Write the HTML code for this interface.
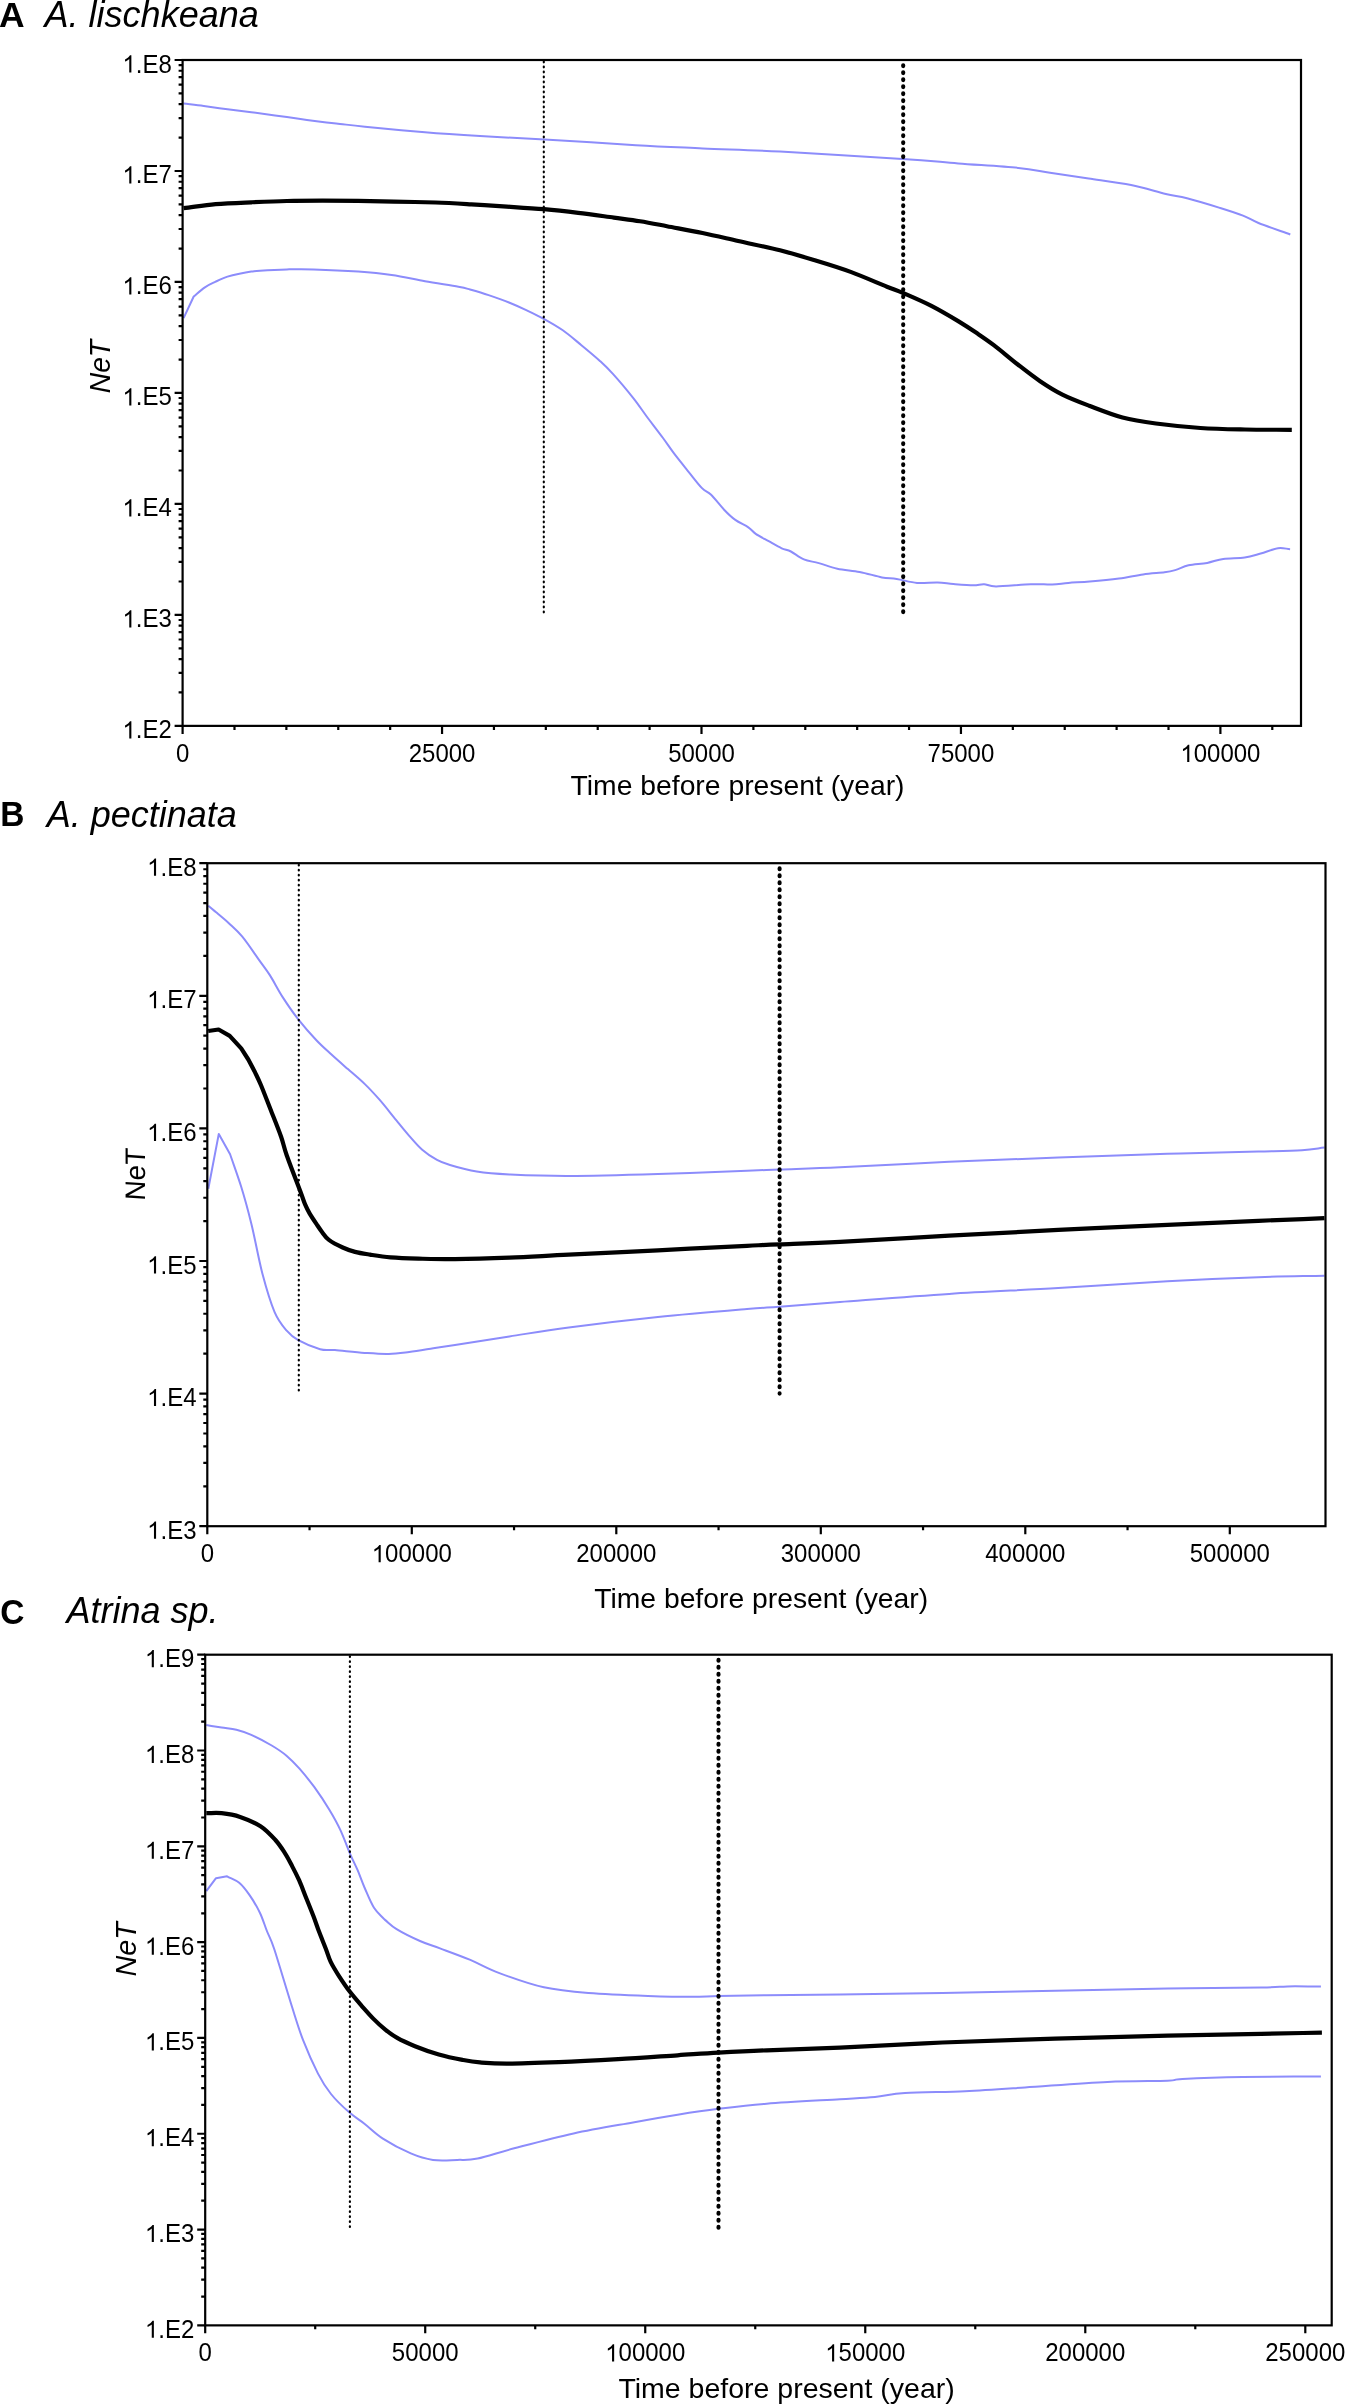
<!DOCTYPE html><html><head><meta charset="utf-8"><style>html,body{margin:0;padding:0;background:#fff;}svg{display:block}text{font-family:"Liberation Sans", sans-serif;}text{filter:grayscale(1)}</style></head><body>
<svg width="1347" height="2405" viewBox="0 0 1347 2405">
<rect width="1347" height="2405" fill="#fff"/>
<g class="t">
<path d="M183.5 103.5C190.3 104.3 196.5 104.9 203.8 105.9C211.1 106.9 219.6 108.2 227.5 109.3C235.4 110.3 243.4 111.2 251.3 112.2C259.2 113.2 267.1 114.3 275.0 115.4C282.9 116.5 290.9 117.7 298.8 118.8C306.7 119.9 315.6 121.2 322.5 122.1C329.4 122.9 332.9 123.1 340.0 123.9C347.1 124.7 350.7 125.3 364.9 126.7C379.1 128.1 405.8 130.7 425.0 132.3C444.2 133.9 460.1 134.9 480.0 136.1C499.9 137.3 518.6 137.9 544.6 139.4C570.6 140.9 609.5 143.7 635.9 145.2C662.2 146.7 678.7 147.3 702.7 148.4C726.7 149.5 746.7 149.8 780.0 151.6C813.3 153.3 872.8 156.9 902.5 158.9C932.2 160.9 938.9 161.9 958.2 163.4C977.5 164.9 1003.0 166.3 1018.3 167.9C1033.6 169.5 1038.3 171.0 1050.0 172.8C1061.7 174.6 1075.1 176.6 1088.6 178.6C1102.1 180.6 1118.2 182.5 1131.1 185.1C1144.0 187.7 1156.5 191.8 1165.8 194.0C1175.1 196.2 1178.0 196.0 1187.0 198.3C1196.0 200.6 1210.5 205.0 1219.8 207.9C1229.1 210.8 1236.5 213.1 1243.0 215.6C1249.5 218.1 1250.6 219.8 1258.5 223.0C1266.4 226.2 1279.7 230.7 1290.3 234.5" fill="none" stroke="#8c8cfb" stroke-width="2.0" stroke-linejoin="round" stroke-linecap="butt"/>
<path d="M183.6 318.2L193.7 296.5C197.4 293.4 201.2 289.8 204.9 287.3C208.6 284.8 211.8 283.5 215.6 281.7C219.4 279.9 223.5 277.9 227.5 276.6C231.5 275.3 235.4 274.5 239.4 273.7C243.4 272.9 247.9 272.1 251.3 271.6C254.7 271.1 254.1 271.1 260.0 270.7C265.9 270.3 278.0 269.6 286.9 269.4C295.8 269.2 301.7 269.0 313.6 269.4C325.5 269.8 345.2 270.7 358.2 271.6C371.2 272.5 380.5 273.4 391.6 275.0C402.7 276.6 413.9 279.2 425.0 281.2C436.1 283.2 450.9 285.4 458.4 286.8C465.9 288.2 465.0 288.1 470.0 289.5C475.0 290.9 482.1 292.9 488.6 295.1C495.1 297.3 502.8 300.0 509.0 302.5C515.2 305.0 520.0 307.2 525.7 309.9C531.4 312.6 537.1 315.2 543.3 318.6C549.5 322.0 556.4 325.9 562.8 330.3C569.1 334.7 575.2 340.1 581.4 345.2C587.6 350.3 594.6 356.1 599.9 360.9C605.1 365.7 607.3 367.7 612.9 373.9C618.5 380.1 627.4 390.7 633.3 398.1C639.2 405.5 643.2 411.9 648.2 418.5C653.2 425.1 658.7 432.1 663.0 438.0C667.3 443.9 669.9 448.0 674.2 453.7C678.5 459.4 684.4 466.6 689.0 472.3C693.6 478.0 698.3 484.4 702.0 488.1C705.7 491.9 707.4 491.2 711.1 494.8C714.8 498.4 720.1 505.5 724.1 509.7C728.1 513.9 731.3 517.0 735.3 519.9C739.3 522.8 744.9 525.0 748.3 527.3C751.7 529.6 752.3 531.5 755.7 533.8C759.1 536.1 764.4 538.8 768.7 541.2C773.0 543.6 778.0 546.6 781.7 548.3C785.4 550.0 787.2 549.6 790.9 551.5C794.6 553.4 799.2 557.5 803.9 559.4C808.5 561.3 813.2 561.5 818.8 563.1C824.4 564.7 830.5 567.2 837.3 568.7C844.1 570.2 852.2 570.5 859.6 571.9C867.0 573.3 875.7 576.2 881.9 577.4C888.1 578.6 890.8 578.0 896.7 578.9C902.6 579.8 910.3 582.4 917.1 583.0C923.9 583.6 931.6 582.2 937.6 582.4C943.6 582.6 947.4 583.5 953.4 584.0C959.4 584.5 968.3 585.3 973.4 585.3C978.5 585.3 980.3 584.0 984.1 584.2C987.9 584.4 988.3 586.4 996.1 586.4C1003.9 586.4 1021.6 584.5 1030.9 584.2C1040.2 583.9 1046.0 584.7 1052.2 584.5C1058.4 584.3 1062.0 583.4 1068.3 582.9C1074.5 582.4 1081.2 582.3 1089.7 581.6C1098.2 580.9 1110.1 579.8 1119.0 578.6C1127.9 577.4 1135.5 575.5 1143.1 574.4C1150.7 573.3 1159.2 572.9 1164.5 572.2C1169.8 571.5 1171.2 571.2 1175.2 570.1C1179.2 569.0 1183.2 566.5 1188.5 565.3C1193.8 564.1 1201.4 564.0 1207.2 562.9C1213.0 561.8 1217.0 559.8 1223.3 558.9C1229.5 558.0 1238.5 558.4 1244.7 557.5C1250.9 556.6 1255.2 555.0 1260.7 553.5C1266.2 552.0 1273.1 548.9 1278.0 548.2C1282.9 547.5 1286.1 548.9 1290.1 549.2" fill="none" stroke="#8c8cfb" stroke-width="2.0" stroke-linejoin="round" stroke-linecap="butt"/>
<path d="M183.6 208.2C194.3 206.9 204.3 205.2 215.6 204.2C226.9 203.2 239.4 202.8 251.3 202.3C263.2 201.8 275.0 201.3 286.9 201.0C298.8 200.7 310.6 200.7 322.5 200.7C334.4 200.7 346.3 200.8 358.2 200.9C370.1 201.1 380.9 201.3 393.8 201.6C406.7 201.9 422.7 202.1 435.6 202.5C448.5 202.9 459.4 203.6 471.3 204.3C483.2 205.0 494.8 205.8 506.9 206.6C519.0 207.4 532.1 208.2 544.0 209.2C555.9 210.2 566.6 211.4 578.2 212.8C589.8 214.2 603.5 216.2 613.8 217.6C624.1 219.0 631.1 219.8 640.0 221.2C648.9 222.6 656.5 224.2 666.9 226.2C677.3 228.2 690.6 230.5 702.5 233.0C714.4 235.5 725.3 238.1 738.2 241.0C751.1 243.9 767.1 247.1 780.0 250.3C792.9 253.6 803.7 256.9 815.6 260.5C827.5 264.1 839.4 267.7 851.3 272.1C863.2 276.5 878.2 283.2 886.9 286.7C895.6 290.2 895.9 289.9 903.3 293.1C910.7 296.3 922.2 301.2 931.4 305.9C940.5 310.6 950.8 316.7 958.2 321.1C965.6 325.6 970.1 328.6 976.0 332.6C981.9 336.6 986.8 339.8 993.8 345.1C1000.8 350.4 1010.1 358.5 1017.8 364.5C1025.5 370.5 1032.7 376.2 1040.1 381.2C1047.5 386.2 1054.2 390.5 1062.4 394.6C1070.6 398.7 1079.1 401.9 1089.1 405.7C1099.1 409.5 1111.4 414.5 1122.5 417.5C1133.6 420.5 1142.9 421.8 1155.9 423.5C1168.9 425.2 1185.6 427.0 1200.4 428.0C1215.2 429.0 1229.8 429.2 1245.0 429.5C1260.2 429.8 1276.2 429.7 1291.8 429.8" fill="none" stroke="#000" stroke-width="4.2" stroke-linejoin="round" stroke-linecap="butt"/>
<rect x="182.60" y="60.00" width="1118.40" height="665.88" fill="none" stroke="#000" stroke-width="2.2"/>
<path d="M174.60 725.88H182.60M178.60 692.47H182.60M178.60 672.93H182.60M178.60 659.06H182.60M178.60 648.31H182.60M178.60 639.52H182.60M178.60 632.09H182.60M178.60 625.66H182.60M178.60 619.98H182.60M174.60 614.90H182.60M178.60 581.49H182.60M178.60 561.95H182.60M178.60 548.08H182.60M178.60 537.33H182.60M178.60 528.54H182.60M178.60 521.11H182.60M178.60 514.68H182.60M178.60 509.00H182.60M174.60 503.92H182.60M178.60 470.51H182.60M178.60 450.97H182.60M178.60 437.10H182.60M178.60 426.35H182.60M178.60 417.56H182.60M178.60 410.13H182.60M178.60 403.70H182.60M178.60 398.02H182.60M174.60 392.94H182.60M178.60 359.53H182.60M178.60 339.99H182.60M178.60 326.12H182.60M178.60 315.37H182.60M178.60 306.58H182.60M178.60 299.15H182.60M178.60 292.72H182.60M178.60 287.04H182.60M174.60 281.96H182.60M178.60 248.55H182.60M178.60 229.01H182.60M178.60 215.14H182.60M178.60 204.39H182.60M178.60 195.60H182.60M178.60 188.17H182.60M178.60 181.74H182.60M178.60 176.06H182.60M174.60 170.98H182.60M178.60 137.57H182.60M178.60 118.03H182.60M178.60 104.16H182.60M178.60 93.41H182.60M178.60 84.62H182.60M178.60 77.19H182.60M178.60 70.76H182.60M178.60 65.08H182.60M174.60 60.00H182.60M182.60 725.88V733.88M442.05 725.88V733.88M701.50 725.88V733.88M960.95 725.88V733.88M1220.40 725.88V733.88M234.49 725.88V729.88M286.38 725.88V729.88M338.27 725.88V729.88M390.16 725.88V729.88M493.94 725.88V729.88M545.83 725.88V729.88M597.72 725.88V729.88M649.61 725.88V729.88M753.39 725.88V729.88M805.28 725.88V729.88M857.17 725.88V729.88M909.06 725.88V729.88M1012.84 725.88V729.88M1064.73 725.88V729.88M1116.62 725.88V729.88M1168.51 725.88V729.88M1272.29 725.88V729.88" stroke="#000" stroke-width="2.2" fill="none"/>
<path transform="translate(122.43 738.38) scale(0.011719 -0.011719)" d="M763 0L583 0L583 1147C540 1106 483 1065 413 1024C343 983 280 952 223 930L223 1104C323 1151 411 1208 486 1275C561 1342 614 1406 646 1466L763 1466Z" fill="#000"/><text transform="translate(135.78 738.38) scale(1.0000 1.0407)" font-size="24">.E2</text>
<path transform="translate(122.43 627.40) scale(0.011719 -0.011719)" d="M763 0L583 0L583 1147C540 1106 483 1065 413 1024C343 983 280 952 223 930L223 1104C323 1151 411 1208 486 1275C561 1342 614 1406 646 1466L763 1466Z" fill="#000"/><text transform="translate(135.78 627.40) scale(1.0000 1.0407)" font-size="24">.E3</text>
<path transform="translate(122.43 516.42) scale(0.011719 -0.011719)" d="M763 0L583 0L583 1147C540 1106 483 1065 413 1024C343 983 280 952 223 930L223 1104C323 1151 411 1208 486 1275C561 1342 614 1406 646 1466L763 1466Z" fill="#000"/><text transform="translate(135.78 516.42) scale(1.0000 1.0407)" font-size="24">.E4</text>
<path transform="translate(122.43 405.44) scale(0.011719 -0.011719)" d="M763 0L583 0L583 1147C540 1106 483 1065 413 1024C343 983 280 952 223 930L223 1104C323 1151 411 1208 486 1275C561 1342 614 1406 646 1466L763 1466Z" fill="#000"/><text transform="translate(135.78 405.44) scale(1.0000 1.0407)" font-size="24">.E5</text>
<path transform="translate(122.43 294.46) scale(0.011719 -0.011719)" d="M763 0L583 0L583 1147C540 1106 483 1065 413 1024C343 983 280 952 223 930L223 1104C323 1151 411 1208 486 1275C561 1342 614 1406 646 1466L763 1466Z" fill="#000"/><text transform="translate(135.78 294.46) scale(1.0000 1.0407)" font-size="24">.E6</text>
<path transform="translate(122.43 183.48) scale(0.011719 -0.011719)" d="M763 0L583 0L583 1147C540 1106 483 1065 413 1024C343 983 280 952 223 930L223 1104C323 1151 411 1208 486 1275C561 1342 614 1406 646 1466L763 1466Z" fill="#000"/><text transform="translate(135.78 183.48) scale(1.0000 1.0407)" font-size="24">.E7</text>
<path transform="translate(122.43 72.50) scale(0.011719 -0.011719)" d="M763 0L583 0L583 1147C540 1106 483 1065 413 1024C343 983 280 952 223 930L223 1104C323 1151 411 1208 486 1275C561 1342 614 1406 646 1466L763 1466Z" fill="#000"/><text transform="translate(135.78 72.50) scale(1.0000 1.0407)" font-size="24">.E8</text>
<text transform="translate(175.93 761.98) scale(1.0000 1.0407)" font-size="24">0</text>
<text transform="translate(408.69 761.98) scale(1.0000 1.0407)" font-size="24">25000</text>
<text transform="translate(668.14 761.98) scale(1.0000 1.0407)" font-size="24">50000</text>
<text transform="translate(927.59 761.98) scale(1.0000 1.0407)" font-size="24">75000</text>
<path transform="translate(1180.37 761.98) scale(0.011719 -0.011719)" d="M763 0L583 0L583 1147C540 1106 483 1065 413 1024C343 983 280 952 223 930L223 1104C323 1151 411 1208 486 1275C561 1342 614 1406 646 1466L763 1466Z" fill="#000"/><text transform="translate(1193.71 761.98) scale(1.0000 1.0407)" font-size="24">00000</text>
<line x1="543.80" y1="61.70" x2="543.80" y2="614.90" stroke="#000" stroke-width="2.2" stroke-linecap="round" stroke-dasharray="0.6 4.4"/>
<line x1="903.20" y1="65.20" x2="903.20" y2="614.90" stroke="#000" stroke-width="4.1" stroke-linecap="round" stroke-dasharray="0.9 6.1"/>
<path d="M208.3 905.8C210.9 908.0 212.6 909.4 216.1 912.3C219.6 915.2 224.8 919.4 229.1 923.4C233.4 927.4 237.1 930.4 242.1 936.4C247.1 942.4 254.2 953.1 258.8 959.6C263.4 966.1 266.0 969.1 270.0 975.4C274.0 981.7 278.2 990.2 283.0 997.6C287.8 1005.0 293.1 1012.8 298.7 1019.9C304.3 1027.0 311.0 1034.6 316.4 1040.3C321.8 1046.0 325.9 1049.5 331.2 1054.3C336.4 1059.1 342.3 1064.2 347.9 1069.1C353.5 1074.0 359.3 1078.8 364.6 1083.9C369.9 1089.0 374.2 1093.7 379.5 1099.7C384.8 1105.7 391.2 1114.1 396.2 1120.1C401.1 1126.1 404.9 1130.9 409.2 1135.8C413.5 1140.7 417.6 1145.7 422.2 1149.7C426.8 1153.7 432.4 1157.4 437.0 1159.9C441.6 1162.5 443.4 1163.0 450.0 1165.0C456.6 1167.0 466.8 1170.0 476.7 1171.6C486.6 1173.2 494.0 1173.8 509.4 1174.5C524.8 1175.2 544.0 1176.1 568.8 1176.0C593.5 1175.9 628.2 1174.9 657.9 1174.0C687.6 1173.1 726.7 1171.5 747.0 1170.7C767.3 1170.0 764.1 1170.1 779.6 1169.5C795.1 1168.9 811.8 1168.6 840.0 1167.3C868.2 1166.0 912.7 1163.4 949.1 1161.8C985.5 1160.2 1021.9 1158.8 1058.3 1157.5C1094.7 1156.2 1134.1 1154.8 1167.4 1153.8C1200.7 1152.8 1235.9 1152.2 1258.3 1151.6C1280.7 1151.0 1291.0 1150.9 1302.0 1150.2C1313.0 1149.5 1317.0 1148.5 1324.5 1147.6" fill="none" stroke="#8c8cfb" stroke-width="2.0" stroke-linejoin="round" stroke-linecap="butt"/>
<path d="M208.3 1188.7L218.8 1133.9L230.1 1154.3C233.8 1165.1 237.6 1175.2 241.2 1186.8C244.8 1198.4 247.8 1209.4 251.4 1223.9C255.0 1238.4 258.6 1259.3 262.5 1274.0C266.4 1288.7 270.6 1302.6 274.6 1312.1C278.6 1321.5 282.8 1326.1 286.7 1330.7C290.6 1335.3 292.2 1336.8 297.8 1339.9C303.4 1343.0 313.9 1347.5 320.1 1349.2C326.3 1350.9 327.5 1349.5 334.9 1350.1C342.3 1350.7 355.6 1352.3 364.6 1352.9C373.6 1353.5 381.3 1354.1 388.7 1353.9C396.1 1353.8 401.8 1352.9 409.2 1352.0C416.6 1351.1 425.7 1349.5 433.3 1348.3C440.9 1347.1 442.3 1347.0 455.0 1345.0C467.7 1343.0 490.4 1339.3 509.4 1336.4C528.4 1333.5 544.0 1330.7 568.8 1327.5C593.5 1324.3 628.2 1320.2 657.9 1317.1C687.6 1314.0 726.7 1310.8 747.0 1309.1C767.3 1307.4 764.1 1307.9 779.6 1306.7C795.1 1305.5 811.8 1304.0 840.0 1301.9C868.2 1299.8 912.7 1296.2 949.1 1293.9C985.5 1291.6 1021.9 1290.2 1058.3 1288.1C1094.7 1286.0 1134.1 1283.0 1167.4 1281.2C1200.7 1279.4 1232.1 1278.1 1258.3 1277.2C1284.5 1276.3 1302.4 1276.2 1324.5 1275.7" fill="none" stroke="#8c8cfb" stroke-width="2.0" stroke-linejoin="round" stroke-linecap="butt"/>
<path d="M208.2 1031.0L218.6 1029.5L229.7 1035.8L241.2 1048.4L248.3 1059.5L254.6 1071.4C256.7 1075.9 258.0 1078.1 260.9 1085.0C263.8 1091.9 268.4 1104.1 271.8 1112.7C275.2 1121.3 278.6 1129.7 281.1 1136.8C283.6 1143.9 283.5 1146.2 286.7 1155.3C289.9 1164.4 297.2 1183.1 300.3 1191.3C303.4 1199.5 303.6 1201.0 305.2 1204.7C306.8 1208.4 307.7 1210.2 309.7 1213.6C311.7 1217.0 315.2 1222.1 317.3 1225.2C319.4 1228.3 320.1 1229.5 322.0 1232.0C323.9 1234.5 325.4 1237.3 328.9 1239.9C332.3 1242.5 338.3 1245.5 342.7 1247.5C347.1 1249.5 350.4 1250.7 355.0 1251.9C359.6 1253.1 364.1 1253.7 370.0 1254.6C375.9 1255.5 382.5 1256.6 390.6 1257.3C398.7 1258.0 407.7 1258.3 418.4 1258.6C429.1 1258.9 439.8 1259.3 455.0 1259.2C470.2 1259.1 490.4 1258.5 509.4 1257.7C528.4 1257.0 544.0 1255.9 568.8 1254.7C593.5 1253.5 628.2 1251.8 657.9 1250.3C687.6 1248.8 726.7 1246.8 747.0 1245.8C767.3 1244.8 764.1 1244.9 779.6 1244.3C795.1 1243.7 811.8 1243.3 840.0 1241.9C868.2 1240.5 912.7 1237.7 949.1 1235.7C985.5 1233.7 1021.9 1231.7 1058.3 1229.9C1094.7 1228.1 1134.1 1226.3 1167.4 1224.8C1200.7 1223.3 1232.1 1221.9 1258.3 1220.8C1284.5 1219.7 1302.4 1219.1 1324.5 1218.2" fill="none" stroke="#000" stroke-width="4.2" stroke-linejoin="round" stroke-linecap="butt"/>
<rect x="207.30" y="863.20" width="1118.20" height="663.00" fill="none" stroke="#000" stroke-width="2.2"/>
<path d="M199.30 1526.20H207.30M203.30 1486.28H207.30M203.30 1462.93H207.30M203.30 1446.37H207.30M203.30 1433.52H207.30M203.30 1423.02H207.30M203.30 1414.14H207.30M203.30 1406.45H207.30M203.30 1399.67H207.30M199.30 1393.60H207.30M203.30 1353.68H207.30M203.30 1330.33H207.30M203.30 1313.77H207.30M203.30 1300.92H207.30M203.30 1290.42H207.30M203.30 1281.54H207.30M203.30 1273.85H207.30M203.30 1267.07H207.30M199.30 1261.00H207.30M203.30 1221.08H207.30M203.30 1197.73H207.30M203.30 1181.17H207.30M203.30 1168.32H207.30M203.30 1157.82H207.30M203.30 1148.94H207.30M203.30 1141.25H207.30M203.30 1134.47H207.30M199.30 1128.40H207.30M203.30 1088.48H207.30M203.30 1065.13H207.30M203.30 1048.57H207.30M203.30 1035.72H207.30M203.30 1025.22H207.30M203.30 1016.34H207.30M203.30 1008.65H207.30M203.30 1001.87H207.30M199.30 995.80H207.30M203.30 955.88H207.30M203.30 932.53H207.30M203.30 915.97H207.30M203.30 903.12H207.30M203.30 892.62H207.30M203.30 883.74H207.30M203.30 876.05H207.30M203.30 869.27H207.30M199.30 863.20H207.30M207.30 1526.20V1534.20M411.80 1526.20V1534.20M616.30 1526.20V1534.20M820.80 1526.20V1534.20M1025.30 1526.20V1534.20M1229.80 1526.20V1534.20M309.55 1526.20V1530.20M514.05 1526.20V1530.20M718.55 1526.20V1530.20M923.05 1526.20V1530.20M1127.55 1526.20V1530.20" stroke="#000" stroke-width="2.2" fill="none"/>
<path transform="translate(147.13 1538.70) scale(0.011719 -0.011719)" d="M763 0L583 0L583 1147C540 1106 483 1065 413 1024C343 983 280 952 223 930L223 1104C323 1151 411 1208 486 1275C561 1342 614 1406 646 1466L763 1466Z" fill="#000"/><text transform="translate(160.48 1538.70) scale(1.0000 1.0407)" font-size="24">.E3</text>
<path transform="translate(147.13 1406.10) scale(0.011719 -0.011719)" d="M763 0L583 0L583 1147C540 1106 483 1065 413 1024C343 983 280 952 223 930L223 1104C323 1151 411 1208 486 1275C561 1342 614 1406 646 1466L763 1466Z" fill="#000"/><text transform="translate(160.48 1406.10) scale(1.0000 1.0407)" font-size="24">.E4</text>
<path transform="translate(147.13 1273.50) scale(0.011719 -0.011719)" d="M763 0L583 0L583 1147C540 1106 483 1065 413 1024C343 983 280 952 223 930L223 1104C323 1151 411 1208 486 1275C561 1342 614 1406 646 1466L763 1466Z" fill="#000"/><text transform="translate(160.48 1273.50) scale(1.0000 1.0407)" font-size="24">.E5</text>
<path transform="translate(147.13 1140.90) scale(0.011719 -0.011719)" d="M763 0L583 0L583 1147C540 1106 483 1065 413 1024C343 983 280 952 223 930L223 1104C323 1151 411 1208 486 1275C561 1342 614 1406 646 1466L763 1466Z" fill="#000"/><text transform="translate(160.48 1140.90) scale(1.0000 1.0407)" font-size="24">.E6</text>
<path transform="translate(147.13 1008.30) scale(0.011719 -0.011719)" d="M763 0L583 0L583 1147C540 1106 483 1065 413 1024C343 983 280 952 223 930L223 1104C323 1151 411 1208 486 1275C561 1342 614 1406 646 1466L763 1466Z" fill="#000"/><text transform="translate(160.48 1008.30) scale(1.0000 1.0407)" font-size="24">.E7</text>
<path transform="translate(147.13 875.70) scale(0.011719 -0.011719)" d="M763 0L583 0L583 1147C540 1106 483 1065 413 1024C343 983 280 952 223 930L223 1104C323 1151 411 1208 486 1275C561 1342 614 1406 646 1466L763 1466Z" fill="#000"/><text transform="translate(160.48 875.70) scale(1.0000 1.0407)" font-size="24">.E8</text>
<text transform="translate(200.63 1562.30) scale(1.0000 1.0407)" font-size="24">0</text>
<path transform="translate(371.77 1562.30) scale(0.011719 -0.011719)" d="M763 0L583 0L583 1147C540 1106 483 1065 413 1024C343 983 280 952 223 930L223 1104C323 1151 411 1208 486 1275C561 1342 614 1406 646 1466L763 1466Z" fill="#000"/><text transform="translate(385.11 1562.30) scale(1.0000 1.0407)" font-size="24">00000</text>
<text transform="translate(576.27 1562.30) scale(1.0000 1.0407)" font-size="24">200000</text>
<text transform="translate(780.77 1562.30) scale(1.0000 1.0407)" font-size="24">300000</text>
<text transform="translate(985.27 1562.30) scale(1.0000 1.0407)" font-size="24">400000</text>
<text transform="translate(1189.77 1562.30) scale(1.0000 1.0407)" font-size="24">500000</text>
<line x1="298.80" y1="864.90" x2="298.80" y2="1393.60" stroke="#000" stroke-width="2.2" stroke-linecap="round" stroke-dasharray="0.6 4.4"/>
<line x1="779.60" y1="868.40" x2="779.60" y2="1393.60" stroke="#000" stroke-width="4.1" stroke-linecap="round" stroke-dasharray="0.9 6.1"/>
<path d="M206.3 1725.1C211.4 1725.9 216.6 1726.7 221.6 1727.5C226.6 1728.3 231.4 1728.5 236.4 1729.7C241.4 1730.9 245.4 1732.3 251.3 1734.9C257.2 1737.5 265.8 1742.0 271.7 1745.5C277.6 1749.0 281.9 1751.8 286.5 1755.7C291.1 1759.6 294.9 1763.5 299.5 1768.7C304.1 1774.0 309.4 1780.4 314.4 1787.2C319.3 1794.0 324.9 1802.4 329.2 1809.5C333.5 1816.6 336.8 1822.4 340.3 1829.9C343.8 1837.4 347.5 1847.7 350.3 1854.3C353.1 1860.9 355.0 1864.2 357.4 1869.7C359.8 1875.2 361.7 1881.2 364.5 1887.5C367.3 1893.8 370.6 1902.4 374.0 1907.7C377.4 1913.0 381.1 1915.6 384.7 1919.6C388.7 1922.8 390.7 1925.5 396.6 1929.1C402.5 1932.7 412.8 1937.8 420.0 1941.0C427.2 1944.2 431.7 1945.3 440.0 1948.4C448.3 1951.5 459.8 1955.6 469.7 1959.7C479.6 1963.8 487.0 1968.5 499.4 1973.1C511.8 1977.7 529.0 1984.0 543.9 1987.3C558.8 1990.6 571.2 1991.6 588.5 1993.0C605.8 1994.4 630.6 1995.3 647.9 1995.9C665.2 1996.5 680.6 1996.8 692.4 1996.8C704.2 1996.8 706.1 1996.2 718.5 1995.9C730.9 1995.7 746.5 1995.5 766.7 1995.3C787.0 1995.1 810.7 1995.0 840.0 1994.6C869.3 1994.2 906.7 1993.7 942.5 1993.0C978.3 1992.3 1017.5 1991.5 1055.0 1990.7C1092.5 1990.0 1133.1 1989.0 1167.5 1988.5C1201.9 1988.0 1241.2 1987.8 1261.2 1987.4C1281.2 1987.1 1277.5 1986.6 1287.4 1986.4C1297.4 1986.2 1309.7 1986.5 1320.9 1986.5" fill="none" stroke="#8c8cfb" stroke-width="2.0" stroke-linejoin="round" stroke-linecap="butt"/>
<path d="M206.3 1891.2L216.0 1878.2L227.1 1876.3C231.1 1878.5 235.5 1879.7 239.2 1882.8C242.9 1885.9 245.9 1889.9 249.4 1894.9C252.9 1899.9 257.1 1906.9 260.0 1913.0C262.9 1919.1 264.7 1925.5 267.1 1931.5C269.5 1937.5 270.2 1936.8 274.3 1949.3C278.4 1961.8 287.2 1991.6 292.0 2006.8C296.8 2022.0 298.8 2029.1 303.1 2040.2C307.4 2051.3 313.4 2064.6 318.0 2073.6C322.6 2082.6 325.8 2087.5 331.0 2094.0C336.2 2100.5 343.9 2107.7 349.5 2112.6C355.1 2117.5 358.8 2119.4 364.4 2123.7C370.0 2128.0 375.2 2133.6 382.9 2138.6C390.6 2143.6 402.4 2149.8 410.8 2153.4C419.2 2157.0 425.3 2158.8 433.0 2159.9C440.7 2161.0 449.8 2160.1 457.2 2159.9C464.6 2159.7 468.1 2160.5 477.6 2158.6C487.1 2156.7 498.2 2152.5 514.2 2148.3C530.2 2144.1 553.8 2137.7 573.6 2133.4C593.4 2129.1 615.7 2125.5 633.0 2122.4C650.3 2119.3 663.4 2117.0 677.6 2114.7C691.9 2112.4 703.6 2110.6 718.5 2108.8C733.4 2107.0 746.5 2105.3 766.7 2103.7C787.0 2102.1 822.0 2100.3 840.0 2099.2C858.0 2098.1 864.2 2097.9 875.0 2096.9C885.8 2095.9 890.0 2094.1 905.0 2093.1C920.0 2092.1 945.0 2092.1 965.0 2091.2C985.0 2090.3 1001.2 2089.1 1025.0 2087.5C1048.8 2085.9 1083.8 2083.0 1107.5 2081.9C1131.2 2080.8 1155.0 2081.2 1167.5 2080.7C1180.0 2080.2 1170.0 2079.5 1182.5 2078.9C1195.0 2078.3 1219.4 2077.4 1242.5 2077.0C1265.6 2076.6 1294.8 2076.6 1320.9 2076.4" fill="none" stroke="#8c8cfb" stroke-width="2.0" stroke-linejoin="round" stroke-linecap="butt"/>
<path d="M206.3 1813.2C211.4 1813.2 216.0 1812.6 221.6 1813.2C227.2 1813.8 233.6 1814.7 240.1 1816.9C246.6 1819.1 254.6 1822.4 260.5 1826.2C266.4 1830.0 271.3 1835.5 275.4 1840.0C279.5 1844.5 282.1 1848.8 284.9 1853.1C287.7 1857.4 289.7 1861.5 292.1 1866.1C294.5 1870.6 296.8 1875.1 299.2 1880.4C301.6 1885.8 303.9 1892.3 306.3 1898.2C308.7 1904.1 311.2 1910.3 313.4 1916.0C315.6 1921.7 317.3 1927.1 319.4 1932.6C321.5 1938.1 324.0 1944.1 325.9 1949.0C327.8 1953.9 328.5 1957.4 330.7 1961.9C332.9 1966.4 335.8 1971.1 339.0 1976.1C342.2 1981.0 345.9 1986.6 349.7 1991.6C353.5 1996.5 357.6 2001.2 361.6 2005.8C365.6 2010.3 369.6 2014.9 373.5 2018.9C377.4 2022.9 381.4 2026.4 385.3 2029.6C389.2 2032.8 392.2 2035.1 397.2 2037.9C402.1 2040.7 408.1 2043.4 415.0 2046.2C421.9 2049.0 430.9 2052.2 438.8 2054.5C446.7 2056.8 455.6 2058.6 462.5 2059.9C469.4 2061.2 472.4 2061.8 480.0 2062.4C487.6 2063.0 495.2 2063.7 508.3 2063.6C521.4 2063.5 540.5 2062.8 558.8 2062.1C577.1 2061.4 598.4 2060.3 618.2 2059.2C638.0 2058.1 660.9 2056.4 677.6 2055.3C694.3 2054.2 703.6 2053.4 718.5 2052.6C733.4 2051.8 746.5 2051.1 766.7 2050.3C787.0 2049.5 810.7 2048.9 840.0 2047.6C869.3 2046.3 906.7 2044.0 942.5 2042.5C978.3 2041.0 1017.5 2039.8 1055.0 2038.7C1092.5 2037.6 1133.1 2036.5 1167.5 2035.7C1201.9 2034.9 1235.5 2034.4 1261.2 2033.9C1286.9 2033.4 1301.7 2033.0 1321.9 2032.6" fill="none" stroke="#000" stroke-width="4.2" stroke-linejoin="round" stroke-linecap="butt"/>
<rect x="205.20" y="1654.70" width="1126.50" height="670.67" fill="none" stroke="#000" stroke-width="2.2"/>
<path d="M197.20 2325.37H205.20M201.20 2296.53H205.20M201.20 2279.66H205.20M201.20 2267.69H205.20M201.20 2258.40H205.20M201.20 2250.82H205.20M201.20 2244.40H205.20M201.20 2238.84H205.20M201.20 2233.94H205.20M197.20 2229.56H205.20M201.20 2200.72H205.20M201.20 2183.85H205.20M201.20 2171.88H205.20M201.20 2162.59H205.20M201.20 2155.01H205.20M201.20 2148.59H205.20M201.20 2143.03H205.20M201.20 2138.13H205.20M197.20 2133.75H205.20M201.20 2104.91H205.20M201.20 2088.04H205.20M201.20 2076.07H205.20M201.20 2066.78H205.20M201.20 2059.20H205.20M201.20 2052.78H205.20M201.20 2047.22H205.20M201.20 2042.32H205.20M197.20 2037.94H205.20M201.20 2009.10H205.20M201.20 1992.23H205.20M201.20 1980.26H205.20M201.20 1970.97H205.20M201.20 1963.39H205.20M201.20 1956.97H205.20M201.20 1951.41H205.20M201.20 1946.51H205.20M197.20 1942.13H205.20M201.20 1913.29H205.20M201.20 1896.42H205.20M201.20 1884.45H205.20M201.20 1875.16H205.20M201.20 1867.58H205.20M201.20 1861.16H205.20M201.20 1855.60H205.20M201.20 1850.70H205.20M197.20 1846.32H205.20M201.20 1817.48H205.20M201.20 1800.61H205.20M201.20 1788.64H205.20M201.20 1779.35H205.20M201.20 1771.77H205.20M201.20 1765.35H205.20M201.20 1759.79H205.20M201.20 1754.89H205.20M197.20 1750.51H205.20M201.20 1721.67H205.20M201.20 1704.80H205.20M201.20 1692.83H205.20M201.20 1683.54H205.20M201.20 1675.96H205.20M201.20 1669.54H205.20M201.20 1663.98H205.20M201.20 1659.08H205.20M197.20 1654.70H205.20M205.20 2325.37V2333.37M425.22 2325.37V2333.37M645.24 2325.37V2333.37M865.26 2325.37V2333.37M1085.28 2325.37V2333.37M1305.30 2325.37V2333.37M315.21 2325.37V2329.37M535.23 2325.37V2329.37M755.25 2325.37V2329.37M975.27 2325.37V2329.37M1195.29 2325.37V2329.37" stroke="#000" stroke-width="2.2" fill="none"/>
<path transform="translate(144.93 2337.87) scale(0.011719 -0.011719)" d="M763 0L583 0L583 1147C540 1106 483 1065 413 1024C343 983 280 952 223 930L223 1104C323 1151 411 1208 486 1275C561 1342 614 1406 646 1466L763 1466Z" fill="#000"/><text transform="translate(158.28 2337.87) scale(1.0000 1.0407)" font-size="24">.E2</text>
<path transform="translate(144.93 2242.06) scale(0.011719 -0.011719)" d="M763 0L583 0L583 1147C540 1106 483 1065 413 1024C343 983 280 952 223 930L223 1104C323 1151 411 1208 486 1275C561 1342 614 1406 646 1466L763 1466Z" fill="#000"/><text transform="translate(158.28 2242.06) scale(1.0000 1.0407)" font-size="24">.E3</text>
<path transform="translate(144.93 2146.25) scale(0.011719 -0.011719)" d="M763 0L583 0L583 1147C540 1106 483 1065 413 1024C343 983 280 952 223 930L223 1104C323 1151 411 1208 486 1275C561 1342 614 1406 646 1466L763 1466Z" fill="#000"/><text transform="translate(158.28 2146.25) scale(1.0000 1.0407)" font-size="24">.E4</text>
<path transform="translate(144.93 2050.44) scale(0.011719 -0.011719)" d="M763 0L583 0L583 1147C540 1106 483 1065 413 1024C343 983 280 952 223 930L223 1104C323 1151 411 1208 486 1275C561 1342 614 1406 646 1466L763 1466Z" fill="#000"/><text transform="translate(158.28 2050.44) scale(1.0000 1.0407)" font-size="24">.E5</text>
<path transform="translate(144.93 1954.63) scale(0.011719 -0.011719)" d="M763 0L583 0L583 1147C540 1106 483 1065 413 1024C343 983 280 952 223 930L223 1104C323 1151 411 1208 486 1275C561 1342 614 1406 646 1466L763 1466Z" fill="#000"/><text transform="translate(158.28 1954.63) scale(1.0000 1.0407)" font-size="24">.E6</text>
<path transform="translate(144.93 1858.82) scale(0.011719 -0.011719)" d="M763 0L583 0L583 1147C540 1106 483 1065 413 1024C343 983 280 952 223 930L223 1104C323 1151 411 1208 486 1275C561 1342 614 1406 646 1466L763 1466Z" fill="#000"/><text transform="translate(158.28 1858.82) scale(1.0000 1.0407)" font-size="24">.E7</text>
<path transform="translate(144.93 1763.01) scale(0.011719 -0.011719)" d="M763 0L583 0L583 1147C540 1106 483 1065 413 1024C343 983 280 952 223 930L223 1104C323 1151 411 1208 486 1275C561 1342 614 1406 646 1466L763 1466Z" fill="#000"/><text transform="translate(158.28 1763.01) scale(1.0000 1.0407)" font-size="24">.E8</text>
<path transform="translate(144.93 1667.20) scale(0.011719 -0.011719)" d="M763 0L583 0L583 1147C540 1106 483 1065 413 1024C343 983 280 952 223 930L223 1104C323 1151 411 1208 486 1275C561 1342 614 1406 646 1466L763 1466Z" fill="#000"/><text transform="translate(158.28 1667.20) scale(1.0000 1.0407)" font-size="24">.E9</text>
<text transform="translate(198.53 2361.47) scale(1.0000 1.0407)" font-size="24">0</text>
<text transform="translate(391.86 2361.47) scale(1.0000 1.0407)" font-size="24">50000</text>
<path transform="translate(605.21 2361.47) scale(0.011719 -0.011719)" d="M763 0L583 0L583 1147C540 1106 483 1065 413 1024C343 983 280 952 223 930L223 1104C323 1151 411 1208 486 1275C561 1342 614 1406 646 1466L763 1466Z" fill="#000"/><text transform="translate(618.55 2361.47) scale(1.0000 1.0407)" font-size="24">00000</text>
<path transform="translate(825.23 2361.47) scale(0.011719 -0.011719)" d="M763 0L583 0L583 1147C540 1106 483 1065 413 1024C343 983 280 952 223 930L223 1104C323 1151 411 1208 486 1275C561 1342 614 1406 646 1466L763 1466Z" fill="#000"/><text transform="translate(838.57 2361.47) scale(1.0000 1.0407)" font-size="24">50000</text>
<text transform="translate(1045.25 2361.47) scale(1.0000 1.0407)" font-size="24">200000</text>
<text transform="translate(1265.27 2361.47) scale(1.0000 1.0407)" font-size="24">250000</text>
<line x1="349.90" y1="1656.40" x2="349.90" y2="2229.56" stroke="#000" stroke-width="2.2" stroke-linecap="round" stroke-dasharray="0.6 4.4"/>
<line x1="718.50" y1="1659.90" x2="718.50" y2="2229.56" stroke="#000" stroke-width="4.1" stroke-linecap="round" stroke-dasharray="0.9 6.1"/>
<text transform="translate(-1.00 27.40) scale(1.0600 1.0407)" font-size="33.5" font-weight="bold">A</text>
<text transform="translate(44.60 26.80) scale(1.0000 1.0000)" font-size="36" font-style="italic">A. lischkeana</text>
<text transform="translate(0.30 825.60) scale(1.0000 1.0407)" font-size="33.5" font-weight="bold">B</text>
<text transform="translate(46.70 827.40) scale(1.0000 1.0000)" font-size="36" font-style="italic">A. pectinata</text>
<text transform="translate(0.30 1623.60) scale(1.0000 1.0407)" font-size="33.5" font-weight="bold">C</text>
<text transform="translate(66.50 1623.40) scale(1.0000 1.0000)" font-size="36" font-style="italic">Atrina sp.</text>
<text transform="translate(570.60 795.40) scale(1.0000 1.0000)" font-size="28.3">Time before present (year)</text>
<text transform="translate(594.20 1608.00) scale(1.0000 1.0000)" font-size="28.3">Time before present (year)</text>
<text transform="translate(618.40 2398.00) scale(1.0000 1.0000)" font-size="28.5">Time before present (year)</text>
<text transform="translate(109.70 393.30) rotate(-90) scale(1.0000 1.0200)" font-size="28.3" font-style="italic">NeT</text>
<text transform="translate(144.70 1201.10) rotate(-90) skewX(-4) scale(1.0000 1.0200)" font-size="27.7" font-style="normal">NeT</text>
<text transform="translate(135.60 1976.50) rotate(-90) scale(1.0000 1.0200)" font-size="28.8" font-style="italic">NeT</text>
</g>
</svg></body></html>
